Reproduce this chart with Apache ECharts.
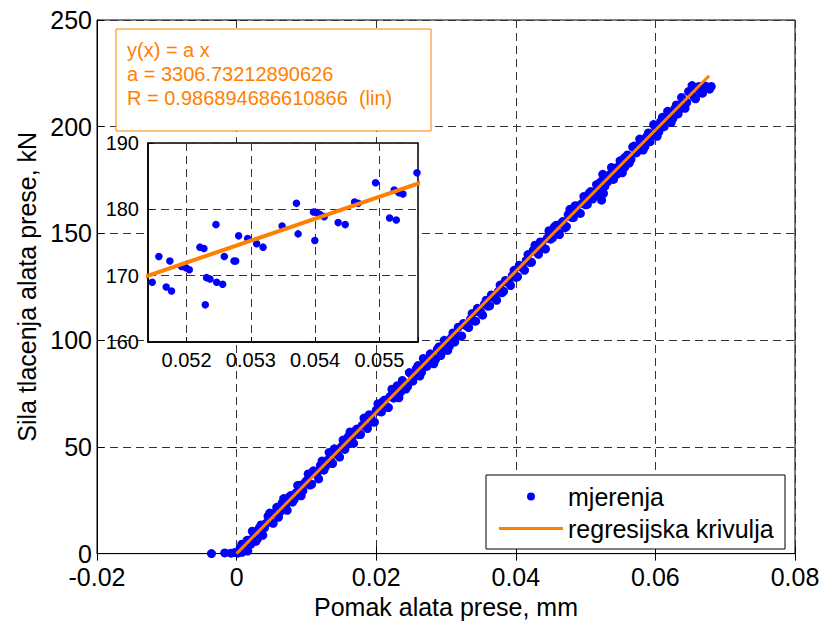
<!DOCTYPE html>
<html>
<head>
<meta charset="utf-8">
<script src="https://cdn.jsdelivr.net/npm/echarts@6/dist/echarts.min.js"></script>
<style>
html,body{margin:0;padding:0;background:#fff;}
#c{width:823px;height:624px;}
</style>
</head>
<body>
<div id="c"></div>
<script>
// ---------------- DATA ----------------
// measurement points (main view), x in mm, y in kN  -- first pass
const measX = [
-0.0036,-0.0017,-0.0008,-0.0003,0.0001,0.0008,0.0016,
0.0005,0.0010,0.0015,0.0020,0.0025,0.0030,0.0035,0.0040,0.0045,0.0050,
0.0055,0.0060,0.0065,0.0070,0.0075,0.0080,0.0085,0.0090,0.0095,0.0100,
0.0105,0.0110,0.0115,0.0120,0.0125,0.0130,0.0135,0.0140,0.0145,0.0150,
0.0155,0.0160,0.0165,0.0170,0.0175,0.0180,0.0185,0.0190,0.0195,0.0200,
0.0205,0.0210,0.0215,0.0220,0.0225,0.0230,0.0235,0.0240,0.0245,0.0250,
0.0255,0.0260,0.0265,0.0270,0.0275,0.0280,0.0285,0.0290,0.0295,0.0300,
0.0305,0.0310,0.0315,0.0320,0.0325,0.0330,0.0335,0.0340,0.0345,0.0350,
0.0355,0.0360,0.0365,0.0370,0.0375,0.0380,0.0385,0.0390,0.0395,0.0400,
0.0405,0.0410,0.0415,0.0420,0.0425,0.0430,0.0435,0.0440,0.0445,0.0450,
0.0455,0.0460,0.0465,0.0470,0.0475,0.0480,0.0485,0.0490,0.0495,0.0500,
0.0505,0.0510,
0.0560,0.0565,0.0570,0.0575,0.0580,0.0585,0.0590,0.0595,0.0600,0.0605,
0.0610,0.0615,0.0620,0.0625,0.0630,0.0635,0.0640,0.0645,0.0650,0.0655,
0.0660,0.0665,0.0670,0.0675,0.0680
];
const measY = [
0.0,0.3,0.2,0.5,0.3,0.6,1.2,
2.5,1.8,6.2,4.3,8.8,6.9,13.4,12.1,17.5,14.5,
19.1,17.0,23.6,22.5,26.3,24.1,28.4,32.0,29.5,34.1,
32.1,38.8,37.1,41.3,39.1,43.7,43.2,49.1,46.2,50.0,
48.8,54.8,53.8,57.5,55.8,60.1,59.5,65.1,61.6,67.2,
66.5,71.4,68.7,73.7,72.8,78.6,75.7,79.8,78.3,84.1,
83.3,88.1,85.0,90.1,89.0,92.4,90.9,96.9,94.8,98.7,
97.3,103.4,102.0,101.9,107.8,106.6,109.8,109.0,114.9,113.0,
116.8,115.9,121.2,120.1,122.8,122.2,128.0,127.0,130.2,129.4,
135.1,133.8,137.4,136.5,142.0,141.1,146.0,142.9,147.8,147.3,
152.9,150.1,154.7,152.6,158.8,157.5,163.0,159.7,164.1,163.4,
168.8,166.1,
186.8,184.6,191.0,188.7,192.6,190.7,197.1,195.8,199.7,197.7,
204.4,201.8,205.5,203.8,210.2,208.2,212.2,211.3,216.1,214.0,
217.9,215.9,219.2,217.9,218.9
];
// second pass of measurement points (interleaved)
const meas2X = [
0.00025,0.00075,0.00125,0.00175,0.00225,0.00275,0.00325,0.00375,0.00425,0.00475,
0.00525,0.00575,0.00625,0.00675,0.00725,0.00775,0.00825,0.00875,0.00925,0.00975,
0.01025,0.01075,0.01125,0.01175,0.01225,0.01275,0.01325,0.01375,0.01425,0.01475,
0.01525,0.01575,0.01625,0.01675,0.01725,0.01775,0.01825,0.01875,0.01925,0.01975,
0.02025,0.02075,0.02125,0.02175,0.02225,0.02275,0.02325,0.02375,0.02425,0.02475,
0.02525,0.02575,0.02625,0.02675,0.02725,0.02775,0.02825,0.02875,0.02925,0.02975,
0.03025,0.03075,0.03125,0.03175,0.03225,0.03275,0.03325,0.03375,0.03425,0.03475,
0.03525,0.03575,0.03625,0.03675,0.03725,0.03775,0.03825,0.03875,0.03925,0.03975,
0.04025,0.04075,0.04125,0.04175,0.04225,0.04275,0.04325,0.04375,0.04425,0.04475,
0.04525,0.04575,0.04625,0.04675,0.04725,0.04775,0.04825,0.04875,0.04925,0.04975,
0.05025,0.05075,
0.05625,0.05675,0.05725,0.05775,0.05825,0.05875,0.05925,0.05975,0.06025,0.06075,
0.06125,0.06175,0.06225,0.06275,0.06325,0.06375,0.06425,0.06475,0.06525,0.06575,
0.06625,0.06675,0.06725,0.06775
];
const meas2Y = [
0.3,4.4,1.5,6.2,10.5,5.7,12.0,8.6,14.3,19.0,
14.2,21.7,19.6,25.8,20.3,27.2,25.3,31.9,27.1,33.1,
37.3,32.5,38.5,35.0,43.4,40.8,47.4,42.2,47.8,45.2,
53.2,50.9,57.0,51.6,58.4,55.8,63.5,58.6,64.5,61.6,
70.2,66.4,72.0,68.4,77.0,74.2,73.0,81.1,77.1,84.8,
80.8,86.7,83.2,91.4,87.7,93.6,88.9,95.7,92.8,99.9,
95.2,101.0,99.1,106.1,102.0,107.0,105.9,112.5,108.9,113.1,
111.7,118.7,116.1,120.0,118.7,125.8,122.9,127.2,125.6,132.7,
129.7,134.4,132.7,140.1,136.5,144.5,140.2,145.9,142.7,151.3,
147.9,153.8,149.5,155.6,153.2,161.3,157.4,162.9,159.4,167.3,
163.6,169.7,
183.0,190.5,187.7,194.2,189.1,195.4,193.0,201.0,195.5,202.4,
200.0,207.2,202.0,208.3,206.0,213.7,208.6,216.5,219.3,213.1,
218.9,215.7,218.8,217.6
];
// measurement points inside the zoomed window (shown in inset and main view)
const zoomX = [
0.051465,0.051569,0.051683,0.05174,0.051766,0.051922,0.05199,0.052042,0.052208,0.05227,
0.052291,0.052312,0.052364,0.052457,0.052468,0.052561,0.052587,0.052738,0.052764,0.05281,
0.05295,0.05309,0.05319,0.053486,0.053709,0.053735,0.053974,0.053995,0.054026,0.054078,
0.05414,0.054358,0.054468,0.054613,0.05467,0.05494,0.055158,0.05523,0.055262,0.055304,
0.055366,0.055584,0.055616
];
const zoomY = [
169.0,172.9,168.3,172.2,167.7,171.4,171.2,170.9,174.3,174.1,
165.6,169.7,169.5,177.7,169.0,168.7,172.9,172.2,172.2,176.0,
175.6,174.8,174.3,177.5,180.9,176.3,179.6,175.3,179.5,179.2,
178.9,178.0,177.7,181.1,180.9,184.0,178.7,182.9,178.4,182.5,
182.3,185.5,181.1
];
// regression line y = a x (end points)
const fitX = [0, 0.0677];
const fitY = [0, 223.9];

const seriesNames = ['mjerenja', 'regresijska krivulja'];
const annotationLines = ['y(x) = a x', 'a = 3306.73212890626', 'R = 0.986894686610866  (lin)'];

const xTickValues = [-0.02, 0, 0.02, 0.04, 0.06, 0.08];
const xTickLabels = ['-0.02', '0', '0.02', '0.04', '0.06', '0.08'];
const yTickValues = [0, 50, 100, 150, 200, 250];
const yTickLabels = ['0', '50', '100', '150', '200', '250'];
const insetXTickValues = [0.052, 0.053, 0.054, 0.055];
const insetXTickLabels = ['0.052', '0.053', '0.054', '0.055'];
const insetYTickValues = [160, 170, 180, 190];
const insetYTickLabels = ['160', '170', '180', '190'];

const xTitle = 'Pomak alata prese, mm';
const yTitle = 'Sila tlacenja alata prese, kN';

// ---------------- CHART ----------------
function labelFrom(values, labels) {
  return function (v) {
    for (let i = 0; i < values.length; i++) {
      if (Math.abs(values[i] - v) < 1e-9) return labels[i];
    }
    return '';
  };
}
const FONT = '"Liberation Sans", Arial, Helvetica, sans-serif';
const BLUE = '#0000ff';
const ORANGE = '#ff8000';

const pairs = (xs, ys) => xs.map((x, i) => [x, ys[i]]);
const allMeas = pairs(measX, measY).concat(pairs(meas2X, meas2Y)).concat(pairs(zoomX, zoomY));
const zoomMeas = pairs(zoomX, zoomY);
const fitData = pairs(fitX, fitY);

const dash = { color: '#333', type: [8, 5], width: 1 };

const chart = echarts.init(document.getElementById('c'), null, { renderer: 'svg' });
chart.setOption({
  animation: false,
  backgroundColor: '#fff',
  textStyle: { fontFamily: FONT },
  grid: [
    { left: 97, top: 20, width: 698, height: 540, show: true, borderColor: '#000', borderWidth: 1, backgroundColor: 'transparent', z: 0 },
    { left: 148, top: 143, width: 270, height: 199, show: true, borderColor: '#000', borderWidth: 1.5, backgroundColor: '#fff', z: 5 }
  ],
  xAxis: [
    {
      gridIndex: 0, type: 'value', min: -0.02, max: 0.08, interval: 0.02,
      axisLine: { show: true, onZero: false, lineStyle: { color: '#000', width: 1 } },
      axisTick: { inside: true, length: 7, lineStyle: { color: '#000' } },
      axisLabel: { formatter: labelFrom(xTickValues, xTickLabels), fontSize: 25, lineHeight: 20, color: '#000', margin: 13, fontFamily: FONT },
      splitLine: { show: true, lineStyle: dash },
      name: xTitle, nameLocation: 'middle', nameGap: 36,
      nameTextStyle: { fontSize: 25, color: '#000', fontFamily: FONT }
    },
    {
      gridIndex: 0, type: 'value', position: 'top', min: -0.02, max: 0.08, interval: 0.02,
      axisLine: { show: false }, axisTick: { inside: true, length: 7, lineStyle: { color: '#000' } },
      axisLabel: { show: false }, splitLine: { show: false }
    },
    {
      gridIndex: 1, type: 'value', min: 0.0514, max: 0.0556, splitNumber: 4, z: 6,
      axisLine: { show: true, onZero: false, lineStyle: { color: '#000', width: 1.5 } },
      axisTick: { inside: true, length: 5, lineStyle: { color: '#000' } },
      axisLabel: { formatter: labelFrom(insetXTickValues, insetXTickLabels), fontSize: 20, color: '#000', margin: 8, fontFamily: FONT },
      splitLine: { show: true, lineStyle: dash }
    }
  ],
  yAxis: [
    {
      gridIndex: 0, type: 'value', min: 0, max: 250, interval: 50,
      axisLine: { show: true, onZero: false, lineStyle: { color: '#000', width: 1 } },
      axisTick: { inside: true, length: 7, lineStyle: { color: '#000' } },
      axisLabel: { formatter: labelFrom(yTickValues, yTickLabels), fontSize: 25, lineHeight: 20, color: '#000', margin: 5, fontFamily: FONT },
      splitLine: { show: true, lineStyle: dash },
      name: yTitle, nameLocation: 'middle', nameGap: 48,
      nameTextStyle: { fontSize: 25, color: '#000', fontFamily: FONT }
    },
    {
      gridIndex: 0, type: 'value', position: 'right', min: 0, max: 250, interval: 50,
      axisLine: { show: false }, axisTick: { inside: true, length: 7, lineStyle: { color: '#000' } },
      axisLabel: { show: false }, splitLine: { show: false }
    },
    {
      gridIndex: 1, type: 'value', min: 160, max: 190, interval: 10, z: 6,
      axisLine: { show: true, onZero: false, lineStyle: { color: '#000', width: 1.5 } },
      axisTick: { inside: true, length: 5, lineStyle: { color: '#000' } },
      axisLabel: { formatter: labelFrom(insetYTickValues, insetYTickLabels), fontSize: 20, color: '#000', margin: 9, fontFamily: FONT },
      splitLine: { show: true, lineStyle: dash }
    }
  ],
  legend: [
    {
      data: [{ name: seriesNames[0], icon: 'path://M0,4L0.01,4M64,4L64.01,4M28,4A4,4,0,1,0,36,4A4,4,0,1,0,28,4Z' }],
      left: 499, top: 484, padding: 0,
      itemWidth: 64, itemHeight: 8, selectedMode: false, z: 10,
      textStyle: { fontSize: 25, color: '#000', fontFamily: FONT }
    },
    {
      data: [{ name: seriesNames[1], icon: 'rect' }], left: 499, top: 516, padding: 0,
      itemWidth: 64, itemHeight: 3, selectedMode: false, z: 10,
      textStyle: { fontSize: 25, color: '#000', fontFamily: FONT }
    }
  ],
  graphic: [
    { type: 'rect', z: 9, silent: true, shape: { x: 486, y: 475, width: 299, height: 74 }, style: { fill: '#fff', stroke: '#000', lineWidth: 1 } },
    { type: 'rect', z: 9, silent: true, shape: { x: 116, y: 29, width: 315, height: 102 }, style: { fill: '#fff', stroke: ORANGE, lineWidth: 1 } },
    { type: 'text', z: 10, silent: true, x: 127, y: 38, style: { text: annotationLines.join('\n'), fill: ORANGE, font: '20px ' + FONT, lineHeight: 24 } }
  ],
  series: [
    { type: 'scatter', name: seriesNames[0], xAxisIndex: 0, yAxisIndex: 0, data: allMeas, symbol: 'circle', symbolSize: 9, itemStyle: { color: BLUE, opacity: 1 }, z: 2 },
    { type: 'line', name: seriesNames[1], xAxisIndex: 0, yAxisIndex: 0, data: fitData, symbol: 'none', lineStyle: { color: ORANGE, width: 3 }, itemStyle: { color: ORANGE }, z: 3 },
    { type: 'scatter', name: seriesNames[0], xAxisIndex: 2, yAxisIndex: 2, data: zoomMeas, symbol: 'circle', symbolSize: 7.5, itemStyle: { color: BLUE, opacity: 1 }, z: 7 },
    { type: 'line', name: seriesNames[1], xAxisIndex: 2, yAxisIndex: 2, data: fitData, symbol: 'none', clip: true, lineStyle: { color: ORANGE, width: 4 }, itemStyle: { color: ORANGE }, z: 8 }
  ]
});
</script>
</body>
</html>
